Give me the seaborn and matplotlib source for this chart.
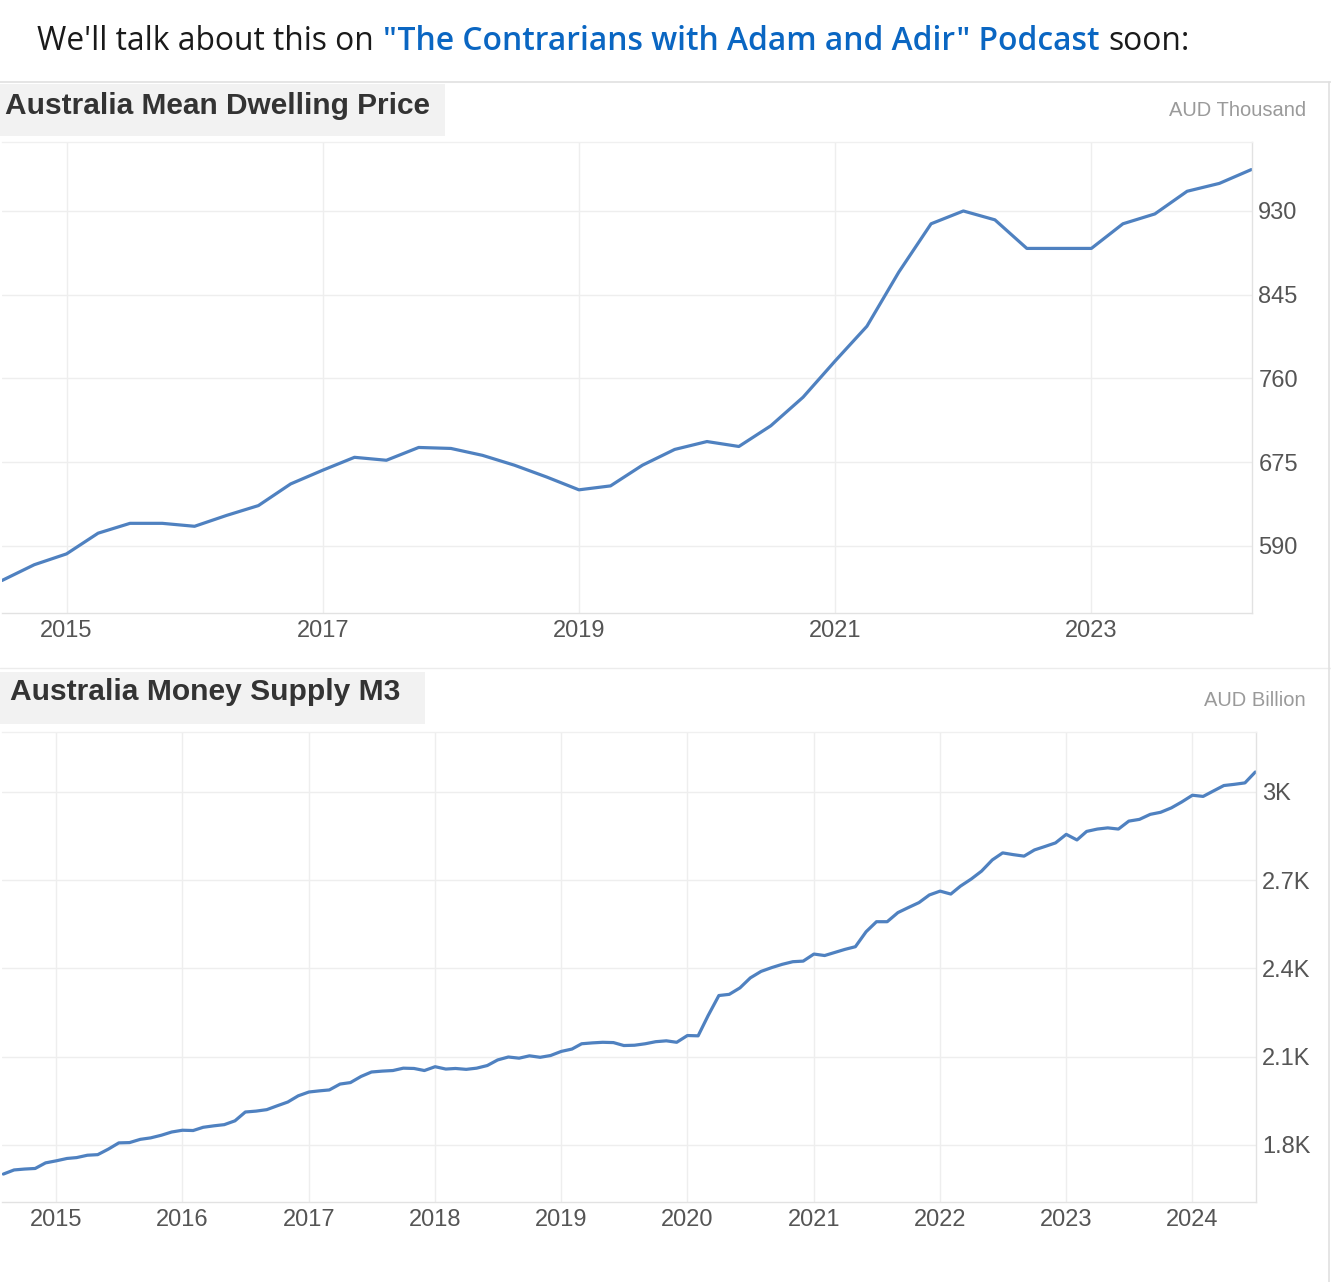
import numpy as np
import pandas as pd
import matplotlib
matplotlib.use("Agg")
import matplotlib.pyplot as plt
import seaborn as sns
from matplotlib.patches import Rectangle
from matplotlib.lines import Line2D
import matplotlib.dates as mdates

# ---------------- data ----------------
dwelling_dates = pd.date_range("2014-07-01", periods=40, freq="QS")
dwelling_price = [555, 571, 582, 603, 613, 613, 610, 621, 631, 653,
                  667, 680, 677, 690, 689, 682, 672, 660, 647, 651,
                  672, 688, 696, 691, 712, 741, 778, 813, 868, 917,
                  930, 921, 892, 892, 892, 917, 927, 950, 958, 972]
dwelling_yticks = [590, 675, 760, 845, 930]
dwelling_xyears = [2015, 2017, 2019, 2021, 2023]

m3_dates = pd.date_range("2014-08-01", periods=120, freq="MS")
m3_supply = [1701, 1715, 1718, 1720, 1739, 1746, 1754, 1757, 1765, 1767,
             1786, 1807, 1808, 1819, 1824, 1833, 1844, 1850, 1849, 1860,
             1865, 1869, 1882, 1912, 1915, 1920, 1933, 1946, 1967, 1980,
             1984, 1987, 2007, 2012, 2033, 2048, 2051, 2053, 2061, 2060,
             2053, 2066, 2058, 2060, 2057, 2061, 2070, 2089, 2099, 2095,
             2103, 2098, 2104, 2118, 2126, 2144, 2147, 2149, 2148, 2138,
             2139, 2144, 2151, 2154, 2149, 2172, 2171, 2240, 2308, 2312,
             2334, 2368, 2390, 2403, 2414, 2423, 2425, 2449, 2444, 2454,
             2465, 2474, 2525, 2559, 2559, 2590, 2607, 2624, 2650, 2663,
             2653, 2680, 2704, 2731, 2769, 2793, 2787, 2782, 2803, 2815,
             2827, 2856, 2837, 2866, 2874, 2878, 2874, 2901, 2907, 2924,
             2931, 2946, 2966, 2989, 2985, 3003, 3022, 3026, 3031, 3068]
m3_yticks = [1800, 2100, 2400, 2700, 3000]
m3_ylabels = ["1.8K", "2.1K", "2.4K", "2.7K", "3K"]
m3_xyears = list(range(2015, 2025))

header_pieces = [("We'll talk about this on", "#1a1a1a", "normal"),
                 ("\"The Contrarians with Adam and Adir\" Podcast", "#0a66c2", "semibold"),
                 ("soon:", "#1a1a1a", "normal")]

# ---------------- style ----------------
sns.set_style("white")
plt.rcParams["font.family"] = ["Liberation Sans", "DejaVu Sans"]

W, H = 1331, 1282
fig = plt.figure(figsize=(W / 100, H / 100), dpi=100)
fig.patch.set_facecolor("white")
renderer = fig.canvas.get_renderer()

LINE = "#4f81c0"
GRID = "#eeeeee"
SPINE = "#e2e2e2"
TICK = "#555555"


def fx(px):
    return px / W


def fy(py):
    return 1 - py / H


def fit_text(x_px, y_px, s, target_w, ha="left", **kw):
    t = fig.text(fx(x_px), fy(y_px), s, ha=ha, va="center", **kw)
    bb = t.get_window_extent(renderer)
    t.set_fontsize(t.get_fontsize() * target_w / bb.width)
    return t


# ---------------- header line ----------------
base = 20
texts = []
for s, c, wgt in header_pieces:
    texts.append(fig.text(0, fy(41), s, color=c, fontsize=base, fontweight=wgt,
                          family=["Open Sans", "DejaVu Sans"], va="center"))
gap_px = 9
widths = [t.get_window_extent(renderer).width for t in texts]
total = sum(widths) + gap_px * (len(texts) - 1)
scale = (1187 - 37) / total
x = 37
for t in texts:
    t.set_fontsize(base * scale)
    t.set_x(fx(x))
    x += t.get_window_extent(renderer).width + gap_px

# panel frame lines
fig.add_artist(Line2D([0, 1], [fy(82), fy(82)], color="#e0e0e0", lw=1.2))
fig.add_artist(Line2D([0, 1], [fy(668), fy(668)], color="#ececec", lw=1.0))
fig.add_artist(Line2D([fx(1329), fx(1329)], [fy(82), 0], color="#e0e0e0", lw=1.2))

# title boxes
fig.add_artist(Rectangle((0, fy(136)), fx(445), 52 / H, transform=fig.transFigure,
                         facecolor="#f2f2f2", edgecolor="none", zorder=0))
fig.add_artist(Rectangle((0, fy(724)), fx(425), 52 / H, transform=fig.transFigure,
                         facecolor="#f2f2f2", edgecolor="none", zorder=0))

fit_text(5, 106, "Australia Mean Dwelling Price", 425, fontsize=20,
         fontweight="bold", color="#333333")
fit_text(10, 692, "Australia Money Supply M3", 389, fontsize=20,
         fontweight="bold", color="#333333")
fig.text(fx(1306), fy(110), "AUD Thousand", ha="right", va="center",
         fontsize=14.5, color="#9a9a9a")
fig.text(fx(1306), fy(700), "AUD Billion", ha="right", va="center",
         fontsize=14.5, color="#9a9a9a")


def style_axes(ax):
    ax.set_facecolor("white")
    ax.yaxis.tick_right()
    ax.tick_params(axis="both", length=0, labelsize=17, labelcolor=TICK)
    ax.tick_params(axis="y", pad=4.5)
    ax.tick_params(axis="x", pad=5)
    ax.grid(True, color=GRID, linewidth=1.0)
    ax.set_axisbelow(True)
    ax.spines["left"].set_visible(False)
    ax.spines["top"].set_color("#f0f0f0")
    ax.spines["right"].set_color(SPINE)
    ax.spines["bottom"].set_color(SPINE)
    for sp in ax.spines.values():
        sp.set_linewidth(1.0)
    ax.set_xlabel("")
    ax.set_ylabel("")


# ---------------- top chart ----------------
ax1 = fig.add_axes([fx(2), fy(613), fx(1252) - fx(2), (613 - 142) / H])
df1 = pd.DataFrame({"date": dwelling_dates, "value": dwelling_price})
sns.lineplot(data=df1, x="date", y="value", ax=ax1, color=LINE,
             linewidth=2.3, estimator=None)
for ln in ax1.lines:
    ln.set_solid_joinstyle("round")
ax1.set_xlim(pd.Timestamp("2014-07-01"), pd.Timestamp("2024-04-03"))
ax1.set_ylim(522, 1000)
ax1.set_yticks(dwelling_yticks)
ax1.set_yticklabels([str(v) for v in dwelling_yticks])
ax1.set_xticks([mdates.date2num(pd.Timestamp(f"{y}-01-01")) for y in dwelling_xyears])
ax1.set_xticklabels([str(y) for y in dwelling_xyears])
style_axes(ax1)

# ---------------- bottom chart ----------------
ax2 = fig.add_axes([fx(2), fy(1202), fx(1256) - fx(2), (1202 - 732) / H])
df2 = pd.DataFrame({"date": m3_dates, "value": m3_supply})
sns.lineplot(data=df2, x="date", y="value", ax=ax2, color=LINE,
             linewidth=2.3, estimator=None)
for ln in ax2.lines:
    ln.set_solid_joinstyle("round")
ax2.set_xlim(pd.Timestamp("2014-07-28"), pd.Timestamp("2024-07-03"))
ax2.set_ylim(1606, 3204)
ax2.set_yticks(m3_yticks)
ax2.set_yticklabels(m3_ylabels)
ax2.set_xticks([mdates.date2num(pd.Timestamp(f"{y}-01-01")) for y in m3_xyears])
ax2.set_xticklabels([str(y) for y in m3_xyears])
style_axes(ax2)

fig.savefig("out.png", dpi=100, facecolor="white")
